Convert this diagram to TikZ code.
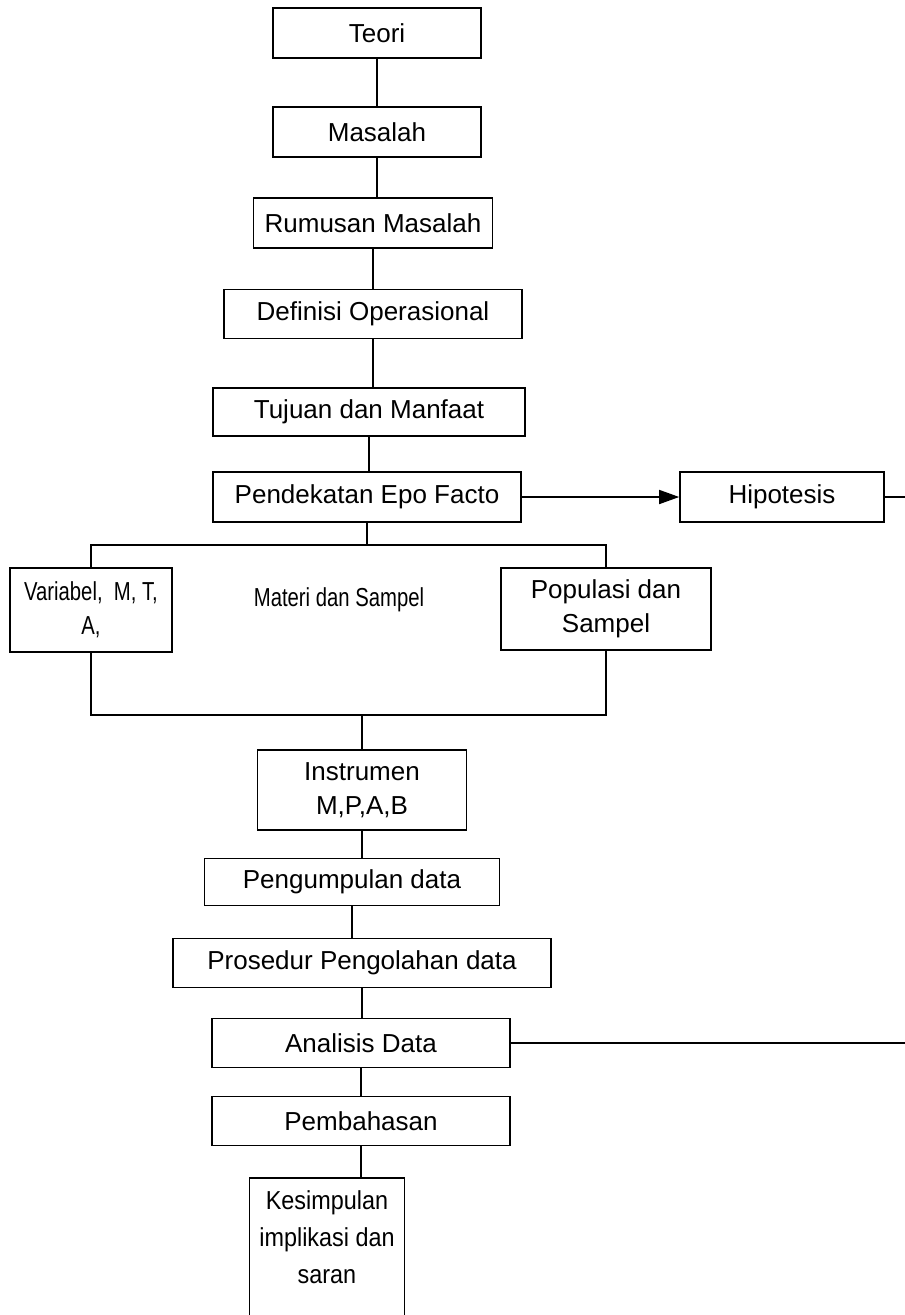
\documentclass[tikz,border=0pt]{standalone}
\usepackage{fontspec}
\setmainfont{Liberation Sans}
\newfontfamily\sempit[FakeStretch=0.78]{Liberation Sans}
\newfontfamily\agaksempit[FakeStretch=0.9]{Liberation Sans}
\usetikzlibrary{arrows.meta}

\begin{document}
\begin{tikzpicture}[x=1pt, y=-1pt, line width=1.6pt,
    kotak/.style={draw, align=center, inner sep=0pt, font=\fontsize{26}{34}\selectfont},
    teks/.style={align=center, inner sep=0pt, font=\fontsize{26}{34}\selectfont}]
            \useasboundingbox (0,0) rectangle (905,1315);
            \node[kotak, minimum width=208, minimum height=50] (teori) at (377,33) {Teori};
            \node[kotak, minimum width=208, minimum height=50] (masalah) at (377,132) {Masalah};
            \node[kotak, minimum width=239, minimum height=50] (rumusan) at (373,223) {Rumusan Masalah};
            \node[kotak, minimum width=298, minimum height=49] (definisi) at (373,314) {Definisi Operasional};
            \node[kotak, minimum width=312, minimum height=48] (tujuan) at (369,412) {Tujuan dan Manfaat};
            \node[kotak, minimum width=308, minimum height=50] (pendekatan) at (367,497) {Pendekatan Epo Facto};
            \node[kotak, minimum width=204, minimum height=50] (hipotesis) at (782,497) {Hipotesis};
            \node[kotak, minimum width=162, minimum height=84, font=\sempit\fontsize{26}{34}\selectfont] (variabel) at (91,610) {Variabel,\ \ M, T,\\A,};
            \node[teks, font=\sempit\fontsize{26}{34}\selectfont] (materi) at (339,600) {Materi dan Sampel};
            \node[kotak, minimum width=210, minimum height=82] (populasi) at (606,609) {Populasi dan\\Sampel};
            \node[kotak, minimum width=209, minimum height=80] (instrumen) at (362,790) {Instrumen\\M,P,A,B};
            \node[kotak, minimum width=295, minimum height=47] (pengumpulan) at (352,882) {Pengumpulan data};
            \node[kotak, minimum width=378, minimum height=49] (prosedur) at (362,963) {Prosedur Pengolahan data};
            \node[kotak, minimum width=298, minimum height=49] (analisis) at (361,1043) {Analisis Data};
            \node[kotak, minimum width=298, minimum height=49] (pembahasan) at (361,1121) {Pembahasan};
            \node[kotak, minimum width=155, minimum height=160, anchor=north, font=\agaksempit\fontsize{26}{37}\selectfont] (kesimpulan) at (327,1177) {Kesimpulan\\implikasi dan\\saran\\[5pt]};
            \coordinate (atas) at (367,545);
            \coordinate (bawah) at (362,715);
            \coordinate (tepi) at (905,0);
            \draw (teori.south) -- (teori.south |- masalah.north);
            \draw (masalah.south) -- (masalah.south |- rumusan.north);
            \draw (rumusan.south) -- (rumusan.south |- definisi.north);
            \draw (definisi.south) -- (definisi.south |- tujuan.north);
            \draw (tujuan.south) -- (tujuan.south |- pendekatan.north);
            \draw[-{Triangle[length=20pt,width=14pt]}] (pendekatan.east) -- (hipotesis.west);
            \draw (hipotesis.east) -- (hipotesis.east -| tepi);
            \draw (pendekatan.south) -- (pendekatan.south |- atas);
            \draw (variabel.north) |- (atas) -| (populasi.north);
            \draw (variabel.south) |- (bawah) -| (populasi.south);
            \draw (bawah) -- (instrumen.north);
            \draw (instrumen.south) -- (instrumen.south |- pengumpulan.north);
            \draw (pengumpulan.south) -- (pengumpulan.south |- prosedur.north);
            \draw (prosedur.south) -- (prosedur.south |- analisis.north);
            \draw (analisis.east) -- (analisis.east -| tepi);
            \draw (analisis.south) -- (pembahasan.north);
            \draw (pembahasan.south) -- (pembahasan.south |- kesimpulan.north);
        \end{tikzpicture}
\end{document}
